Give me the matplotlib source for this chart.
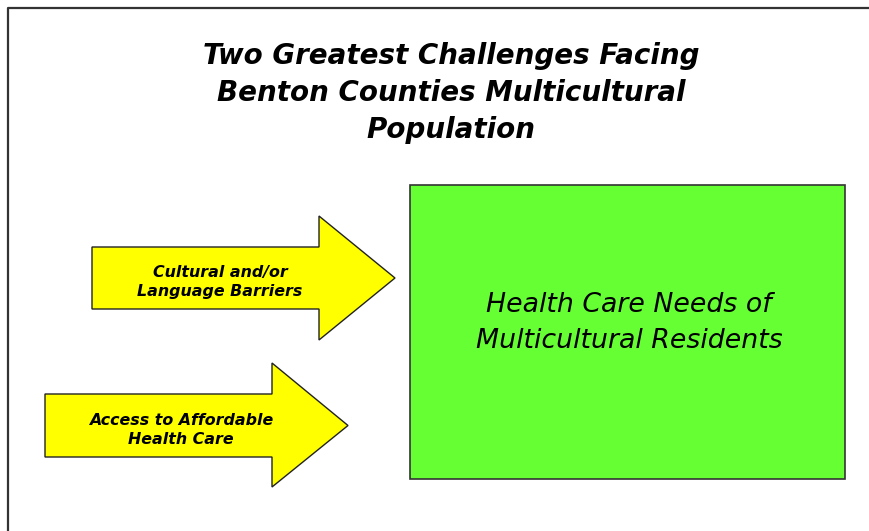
import matplotlib.pyplot as plt
from matplotlib.patches import Polygon, Rectangle

plt.rcParams['font.family'] = ['DejaVu Sans']

# texts of the diagram
title_lines = ['Two Greatest Challenges Facing', 'Benton Counties Multicultural', 'Population']
arrow_labels = ['Cultural and/or\nLanguage Barriers', 'Access to Affordable\nHealth Care']
box_label = 'Health Care Needs of\nMulticultural Residents'

# arrow geometry in pixels: body left, body top, body bottom, head base x, head top, head bottom, tip x
arrow_left = [92, 45]
arrow_body_top = [247, 394]
arrow_body_bottom = [309, 457]
arrow_head_x = [319, 272]
arrow_head_top = [216, 363]
arrow_head_bottom = [340, 487]
arrow_tip = [395, 348]
# label anchor (pixels)
label_x = [220, 181]
label_y = [282, 430]

fig = plt.figure(figsize=(8.69, 5.31), dpi=100)
ax = fig.add_axes([0, 0, 1, 1])
ax.set_xlim(0, 869)
ax.set_ylim(531, 0)
ax.axis('off')

# frame (only top and left edges visible)
ax.plot([7.5, 7.5, 869], [531, 7.5, 7.5], color='#333333', lw=1.6, solid_capstyle='butt')

# title
ax.text(451, 93, '\n'.join(title_lines), ha='center', va='center', fontsize=20,
        fontweight='bold', style='italic', linespacing=1.39)

# arrows
for i, lab in enumerate(arrow_labels):
    yc = (arrow_body_top[i] + arrow_body_bottom[i]) / 2
    pts = [(arrow_left[i], arrow_body_top[i]), (arrow_head_x[i], arrow_body_top[i]),
           (arrow_head_x[i], arrow_head_top[i]), (arrow_tip[i], yc),
           (arrow_head_x[i], arrow_head_bottom[i]), (arrow_head_x[i], arrow_body_bottom[i]),
           (arrow_left[i], arrow_body_bottom[i])]
    ax.add_patch(Polygon(pts, closed=True, facecolor='#ffff00', edgecolor='#222222', lw=1.0))
    ax.text(label_x[i], label_y[i], lab, ha='center', va='center',
            fontsize=11.4, fontweight='bold', style='italic', linespacing=1.3)

# green box
ax.add_patch(Rectangle((409.5, 185), 435, 294, facecolor='#66ff33', edgecolor='#333333', lw=1.2))
ax.text(629, 323, box_label, ha='center', va='center', fontsize=19.3, style='italic',
        linespacing=1.48)

fig.savefig('out.png', dpi=100)
